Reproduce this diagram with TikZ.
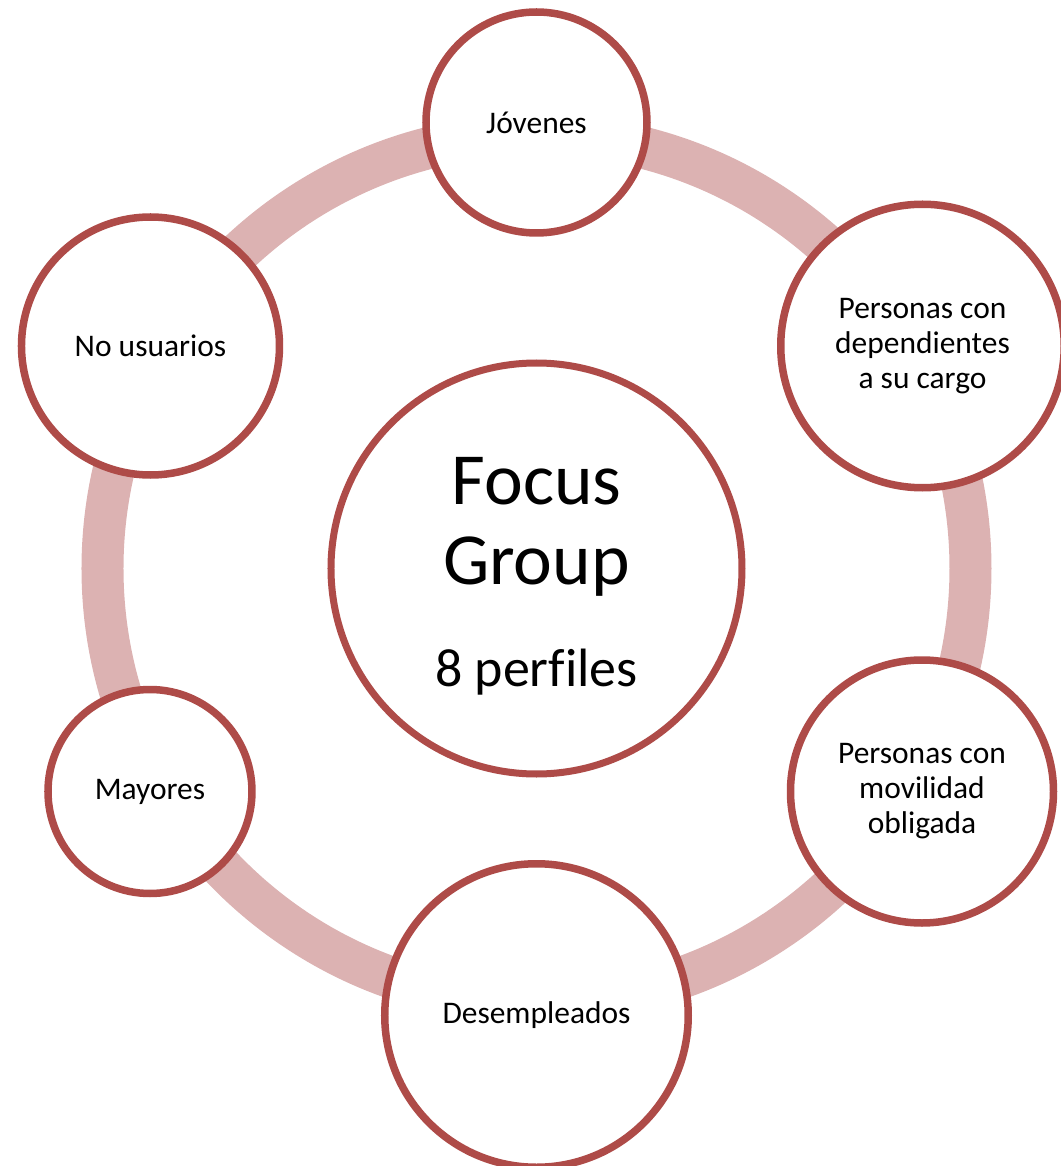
\documentclass[tikz,border=0pt]{standalone}
\usepackage{fontspec}
\setmainfont{Carlito}[Ligatures=NoCommon]
\usepackage{tikz}
\usetikzlibrary{positioning}

\definecolor{rimred}{RGB}{174,75,72}
\definecolor{ringpink}{RGB}{220,178,178}

\begin{document}
\begin{tikzpicture}[
                ring/.style={draw=ringpink, line width=0.84cm},
                hub/.style={circle, draw=rimred, line width=0.14cm, fill=white, align=center, minimum size=8.22cm, inner sep=0pt, font=\fontsize{41.8}{46}\selectfont},
                profile/.style={circle, draw=rimred, line width=0.15cm, fill=white, align=center, inner sep=0pt, font=\fontsize{17.9}{19.9}\selectfont}
            ]
                \useasboundingbox (-10.73,-11.95) rectangle (10.49,11.37);

                \node[hub] (focus) at (0,0) {
                    \rule{0pt}{1.25cm}Focus\\
                    Group\\[0.42cm]
                    {\fontsize{30.7}{34}\selectfont 8 perfiles}
                };

                % anillo de fondo
                \draw[ring] (focus.center) circle (8.68cm);

                \node[profile, minimum size=4.42cm] (jovenes) at (0, 8.92) {J\'ovenes};
                \node[profile, minimum size=5.67cm] (dependientes) at (7.72, 4.45) {
                    Personas con\\
                    dependientes\\
                    a su cargo
                };
                \node[profile, minimum size=5.26cm] (movilidad) at (7.71, -4.46) {
                    Personas con\\
                    movilidad\\
                    obligada
                };
                \node[profile, minimum size=6.07cm] (desempleados) at (0, -8.94) {Desempleados};
                \node[profile, minimum size=4.08cm] (mayores) at (-7.73, -4.46) {Mayores};
                \node[profile, minimum size=5.16cm] (nousuarios) at (-7.72, 4.45) {No usuarios};
            \end{tikzpicture}
\end{document}
